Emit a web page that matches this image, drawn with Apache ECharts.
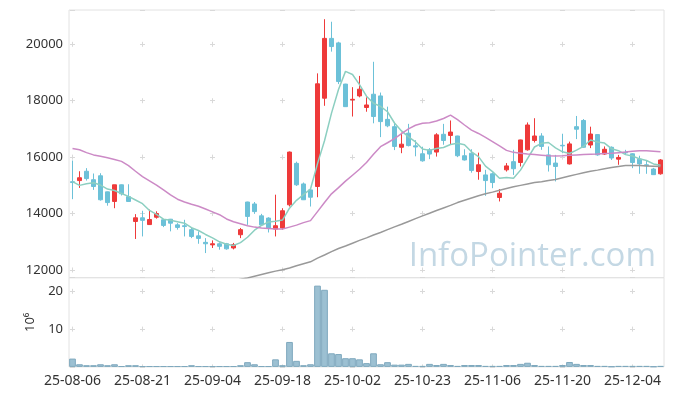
<!DOCTYPE html>
<html><head><meta charset="utf-8">
<script src="https://cdn.jsdelivr.net/npm/echarts@6/dist/echarts.min.js"></script>
<style>html,body{margin:0;padding:0;background:#fff}#c{width:673px;height:396px}</style>
</head><body><div id="c"></div>
<script>
const dates = ['25-08-06','25-08-07','25-08-08','25-08-11','25-08-12','25-08-13','25-08-14','25-08-18','25-08-19','25-08-20',
'25-08-21','25-08-22','25-08-25','25-08-26','25-08-27','25-08-28','25-08-29','25-09-01','25-09-02','25-09-03',
'25-09-04','25-09-05','25-09-08','25-09-09','25-09-10','25-09-11','25-09-12','25-09-15','25-09-16','25-09-17',
'25-09-18','25-09-19','25-09-22','25-09-23','25-09-24','25-09-25','25-09-26','25-09-29','25-09-30','25-10-01',
'25-10-02','25-10-10','25-10-13','25-10-14','25-10-15','25-10-16','25-10-17','25-10-20','25-10-21','25-10-22',
'25-10-23','25-10-24','25-10-27','25-10-28','25-10-29','25-10-30','25-10-31','25-11-03','25-11-04','25-11-05',
'25-11-06','25-11-07','25-11-10','25-11-11','25-11-12','25-11-13','25-11-14','25-11-17','25-11-18','25-11-19',
'25-11-20','25-11-21','25-11-24','25-11-25','25-11-26','25-11-27','25-11-28','25-12-01','25-12-02','25-12-03',
'25-12-04','25-12-05','25-12-08','25-12-09','25-12-10'];

const openP = [15130,15170,15500,15200,15340,14770,14430,15020,14600,13720,
13850,13610,13870,13780,13800,13600,13570,13430,13210,12980,
12890,12930,12930,12780,13250,14410,14340,13920,13840,13450,
13490,14310,15780,15050,14840,14960,18090,20210,20050,18590,
18030,18170,17760,18230,18170,17340,17080,16350,16850,16400,
16120,16260,16180,16810,16770,16750,16050,16140,15490,15370,
15410,14570,15550,15840,15810,16260,16590,16750,16080,15790,
16420,15760,17080,17300,16430,16800,16110,16350,15930,16170,
16120,15930,15730,15580,15410];
const closeP = [15100,15270,15240,14960,14490,14390,15020,14700,14430,13850,
13760,13790,14000,13580,13660,13510,13540,13190,13120,12930,
12930,12840,12750,12900,13430,13900,14070,13600,13490,13570,
14100,16180,15020,14490,14580,18600,20210,19920,18680,17790,
18050,18410,17850,17440,17260,17110,16380,16460,16410,16360,
15870,16110,16790,16590,16890,16050,15900,15530,15730,15170,
15100,14720,15690,15590,16610,17140,16750,16380,15730,15670,
16400,16470,16990,16350,16820,16080,16280,15970,15990,16150,
15810,15760,15700,15380,15900];
const lowP = [14510,14910,15170,14840,14460,14280,14190,14640,14420,13100,
13190,13600,13820,13520,13370,13430,13190,13130,12930,12600,
12780,12720,12720,12730,13130,13600,13990,13570,13330,13190,
13430,14250,14980,14480,14250,14580,17820,19740,18590,17790,
17440,18120,17610,17200,16710,17060,16250,16140,16380,16030,
15840,15930,16020,16440,16440,16000,15880,15450,15200,14630,
14900,14430,15490,15370,15670,16230,16520,16260,15490,15140,
16140,15740,16640,16330,16320,16050,16080,15900,15730,16080,
15610,15410,15410,15370,15380];
const highP = [15880,15500,15610,15420,15430,14780,15020,15030,15040,13980,
14100,14140,14080,13790,13810,13660,13780,13500,13370,13130,
13050,12980,12960,12960,13490,14420,14410,13990,13870,14670,
14190,16200,15840,15100,14900,18970,20890,20800,20090,18600,
18480,18880,18120,19380,18290,17790,17200,16870,17180,16600,
16370,16320,16850,17180,17300,16760,16280,16280,16160,15550,
15460,14870,15790,16260,16620,17230,17380,16850,16380,16080,
16830,16550,17460,17350,17080,16810,16380,16380,16080,16260,
16140,16050,15900,15620,15930];
const volume = [2.2,0.7,0.45,0.45,0.7,0.45,0.7,0.2,0.45,0.45,
0.2,0.2,0.2,0.2,0.2,0.2,0.2,0.45,0.2,0.2,
0.2,0.2,0.2,0.2,0.45,1.25,0.7,0.2,0.2,2.0,
0.45,6.6,1.6,0.45,0.7,21.5,20.4,3.6,3.4,2.3,
2.3,2.0,1.0,3.6,0.7,1.25,0.6,0.6,0.8,0.25,
0.25,0.8,0.5,0.8,0.5,0.25,0.5,0.5,0.5,0.25,
0.25,0.25,0.5,0.5,0.8,1.1,0.5,0.25,0.25,0.25,
0.5,1.3,0.8,0.5,0.5,0.25,0.25,0.1,0.25,0.25,
0.25,0.25,0.25,0.1,0.25];
const ma5 = [15130,15000,15060,15090,15010,14870,14820,14710,14610,14480,
14350,14110,13970,13800,13760,13710,13660,13500,13400,13260,
13140,13000,12910,12870,12970,13160,13410,13580,13700,13730,
13770,14190,14470,14670,14870,15770,16580,17560,18400,19040,
18930,18570,18160,17910,17800,17610,17210,16930,16720,16540,
16290,16240,16310,16340,16450,16490,16440,16190,16020,15680,
15490,15250,15280,15250,15540,15950,16360,16490,16520,16330,
16190,16130,16250,16380,16610,16540,16500,16300,16230,16090,
16040,15940,15880,15760,15710];
const ma20 = [16310,16260,16160,16080,16030,15980,15920,15850,15700,15500,
15310,15160,15010,14840,14660,14510,14410,14330,14260,14160,
14060,13960,13810,13710,13640,13570,13520,13490,13470,13450,
13450,13520,13590,13680,13750,14070,14390,14700,14920,15150,
15360,15570,15810,16100,16370,16510,16660,16830,17000,17130,
17200,17220,17280,17370,17490,17330,17140,16960,16840,16700,
16550,16400,16240,16170,16140,16110,16090,16070,16050,16040,
16050,16070,16080,16090,16100,16110,16130,16140,16160,16180,
16210,16230,16230,16210,16190];
const ma60 = ['-','-','-','-','-','-','-','-','-','-',
'-','-','-','-','-','-','-','-','-','-',
'-','-','-',11610,11670,11720,11780,11840,11900,11960,
12010,12070,12150,12220,12290,12420,12530,12650,12760,12850,
12950,13050,13140,13240,13330,13430,13530,13620,13720,13820,
13920,14010,14110,14200,14290,14390,14470,14550,14630,14700,
14760,14830,14890,14950,15000,15050,15100,15130,15170,15210,
15270,15330,15390,15450,15500,15540,15590,15630,15670,15700,
15700,15700,15690,15680,15670];

const candles = dates.map((d, i) => [openP[i], closeP[i], lowP[i], highP[i]]);

const UP = '#ee3a3a', DOWN = '#6cc1d8';
const GRIDC = '#d9d9d9';
const labelStyle = {color: '#333', fontSize: 13, fontFamily: 'Noto Sans'};
const plain = v => String(v);

const chart = echarts.init(document.getElementById('c'), null, {renderer: 'canvas'});
chart.setOption({
  animation: false,
  textStyle: {fontFamily: 'Noto Sans'},
  grid: [
    {left: 69, width: 595, top: 10, height: 267.7, show: true, borderColor: '#e2e2e2', borderWidth: 1},
    {left: 69, width: 595, top: 277.7, height: 89.2, show: true, borderColor: '#e2e2e2', borderWidth: 1}
  ],
  xAxis: [
    {type: 'category', gridIndex: 0, data: dates, boundaryGap: true,
     axisLine: {show: false}, axisTick: {show: false}, axisLabel: {show: false},
     splitLine: {show: true, interval: 9, alignWithLabel: true,
       lineStyle: {color: GRIDC, width: 1, type: [5, 51.42], dashOffset: 24.62}}},
    {type: 'category', gridIndex: 1, data: dates, boundaryGap: true,
     axisLine: {show: false}, axisTick: {show: false},
     axisLabel: Object.assign({interval: 9, margin: 7}, labelStyle, {fontSize: 14}),
     splitLine: {show: true, interval: 9, alignWithLabel: true,
       lineStyle: {color: GRIDC, width: 1, type: [5, 32.8], dashOffset: 26.7}}}
  ],
  yAxis: [
    {type: 'value', gridIndex: 0, min: 11727, max: 21216,
     axisLine: {show: false}, axisTick: {show: false},
     axisLabel: Object.assign({margin: 6, showMinLabel: false, showMaxLabel: false, formatter: plain}, labelStyle),
     splitLine: {show: true, lineStyle: {color: GRIDC, width: 1, type: [5, 65], dashOffset: 69}}},
    {type: 'value', gridIndex: 1, min: 0, max: 23.6, interval: 10,
     name: '10⁶', nameLocation: 'middle', nameGap: 27, nameRotate: 90,
     nameTextStyle: {color: '#333', fontSize: 13, fontFamily: 'Noto Sans'},
     axisLine: {show: false}, axisTick: {show: false},
     axisLabel: Object.assign({margin: 6, showMinLabel: false, showMaxLabel: false, formatter: plain}, labelStyle),
     splitLine: {show: true, lineStyle: {color: GRIDC, width: 1, type: [5, 65], dashOffset: 69}}}
  ],
  graphic: [
    {type: 'text', z: 0, style: {x: 656, y: 273, text: 'InfoPointer.com', align: 'right', verticalAlign: 'bottom',
      font: '33px "Open Sans"', fill: '#c4d8e4'}}
  ],
  series: [
    {type: 'candlestick', xAxisIndex: 0, yAxisIndex: 0, data: candles, barWidth: 5,
     itemStyle: {color: UP, color0: DOWN, borderColor: UP, borderColor0: DOWN, borderWidth: 1}},
    {type: 'line', xAxisIndex: 0, yAxisIndex: 0, data: ma5, symbol: 'none', silent: true,
     lineStyle: {color: '#8ccfc1', width: 1.5}},
    {type: 'line', xAxisIndex: 0, yAxisIndex: 0, data: ma20, symbol: 'none', silent: true,
     lineStyle: {color: '#cc8ac6', width: 1.5}},
    {type: 'line', xAxisIndex: 0, yAxisIndex: 0, data: ma60, symbol: 'none', silent: true,
     lineStyle: {color: '#999999', width: 1.5}},
    {type: 'bar', xAxisIndex: 1, yAxisIndex: 1, data: volume, barWidth: '96%',
     itemStyle: {color: '#9cc0d2', borderColor: '#7fa9be', borderWidth: 1}}
  ]
});
</script>
</body></html>
